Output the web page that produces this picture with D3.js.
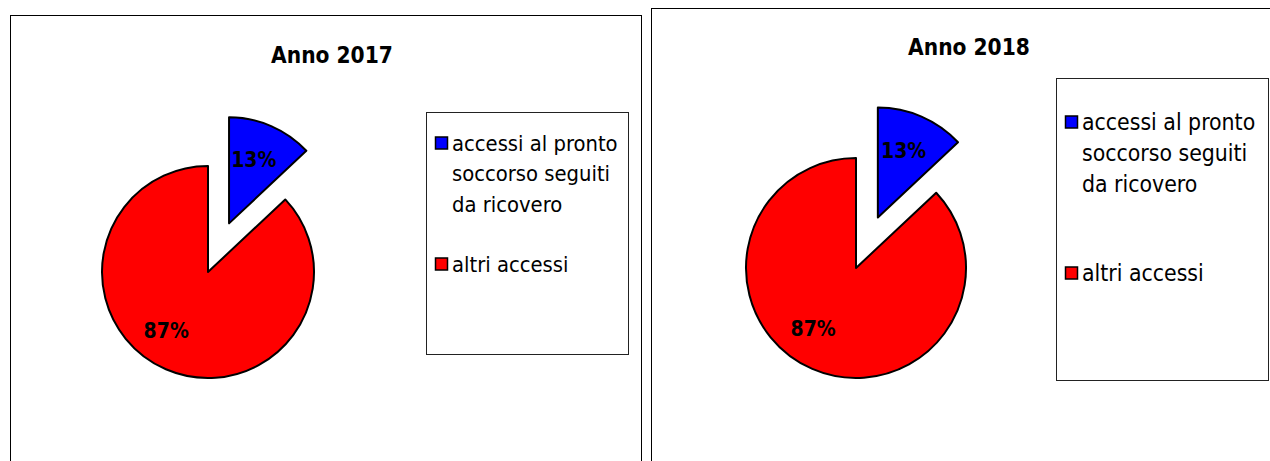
<!DOCTYPE html>
<html>
<head>
<meta charset="utf-8">
<script src="https://cdn.jsdelivr.net/npm/d3@7"></script>
<style>
  body { margin: 0; background: #fff; }
  svg { display: block; }
</style>
</head>
<body>
<div id="chart"></div>
<script>
var svgWidth = 1270;
var svgHeight = 461;

// data
var years = ["Anno 2017", "Anno 2018"];
var categories = ["accessi al pronto soccorso seguiti da ricovero", "altri accessi"];
var legendLines = [["accessi al pronto", "soccorso seguiti", "da ricovero"], ["altri accessi"]];
var values2017 = [13, 87];
var values2018 = [13, 87];
var sliceColors = ["#0000ff", "#ff0000"];

// layout of each panel (frame, pie and legend positions)
var panels = [
  { title: years[0], values: values2017, frame: [10, 15, 631, 470], titleXY: [332, 63],
    cx: 208, cy: 272, r: 106, explode: 53, titleSize: 22.5, legendSize: 21.8,
    legend: [426, 112, 202, 242], legendY: [143, 264], lineGap: 30.5, labelR: 0.66 },
  { title: years[1], values: values2018, frame: [651, 8, 640, 470], titleXY: [969, 55],
    cx: 856, cy: 268, r: 110, explode: 55, titleSize: 22.5, legendSize: 22.8,
    legend: [1056, 78, 212, 302], legendY: [122, 273], lineGap: 31, labelR: 0.66 }
];

var fontFamily = "'Liberation Sans Narrow', 'DejaVu Sans Condensed', 'Open Sans', sans-serif";

var svg = d3.select("#chart")
  .append("svg")
  .attr("width", svgWidth)
  .attr("height", svgHeight);

var pie = d3.pie().sort(null).value(d => d);

panels.forEach(function(p) {
  var g = svg.append("g");

  // frame
  g.append("rect")
    .attr("x", p.frame[0] + 0.5)
    .attr("y", p.frame[1] + 0.5)
    .attr("width", p.frame[2])
    .attr("height", p.frame[3])
    .attr("fill", "none")
    .attr("stroke", "#000")
    .attr("stroke-width", 1);

  // title
  g.append("text")
    .attr("x", p.titleXY[0])
    .attr("y", p.titleXY[1])
    .attr("text-anchor", "middle")
    .attr("font-family", fontFamily)
    .attr("font-weight", "bold")
    .attr("font-size", p.titleSize)
    .text(p.title);

  var arc = d3.arc().innerRadius(0).outerRadius(p.r);
  var labelArc = d3.arc().innerRadius(p.r * p.labelR).outerRadius(p.r * p.labelR);

  var slices = g.selectAll(".slice")
    .data(pie(p.values))
    .enter()
    .append("g")
    .attr("transform", function(d, i) {
      var off = i === 0 ? p.explode : 0;
      var a = (d.startAngle + d.endAngle) / 2;
      return `translate(${p.cx + off * Math.sin(a)}, ${p.cy - off * Math.cos(a)})`;
    });

  slices.append("path")
    .attr("d", arc)
    .attr("fill", (d, i) => sliceColors[i])
    .attr("stroke", "#000")
    .attr("stroke-width", 2)
    .attr("stroke-linejoin", "round");

  slices.append("text")
    .attr("transform", function(d, i) {
      var c = labelArc.centroid(d);
      // Excel nudges the labels a little leftwards
      if (i === 1) c = [c[0] - 14, c[1] - 6];
      else c = [c[0] - 3, c[1]];
      return `translate(${c[0]}, ${c[1]})`;
    })
    .attr("text-anchor", "middle")
    .attr("dy", "0.35em")
    .attr("font-family", fontFamily)
    .attr("font-weight", "bold")
    .attr("font-size", 21)
    .text(d => d.data + "%");

  // legend
  g.append("rect")
    .attr("x", p.legend[0] + 0.5)
    .attr("y", p.legend[1] + 0.5)
    .attr("width", p.legend[2])
    .attr("height", p.legend[3])
    .attr("fill", "#fff")
    .attr("stroke", "#222")
    .attr("stroke-width", 1);

  categories.forEach(function(cat, i) {
    var y0 = p.legendY[i];
    g.append("rect")
      .attr("x", p.legend[0] + 9.5)
      .attr("y", y0 - 6)
      .attr("width", 12)
      .attr("height", 12)
      .attr("fill", sliceColors[i])
      .attr("stroke", "#000")
      .attr("stroke-width", 1.5);

    var t = g.append("text")
      .attr("font-family", fontFamily)
      .attr("font-size", p.legendSize)
      .attr("fill", "#000");
    legendLines[i].forEach(function(line, j) {
      t.append("tspan")
        .attr("x", p.legend[0] + 26)
        .attr("y", y0 + j * p.lineGap)
        .attr("dy", "0.35em")
        .text(line);
    });
  });
});
</script>
</body>
</html>
